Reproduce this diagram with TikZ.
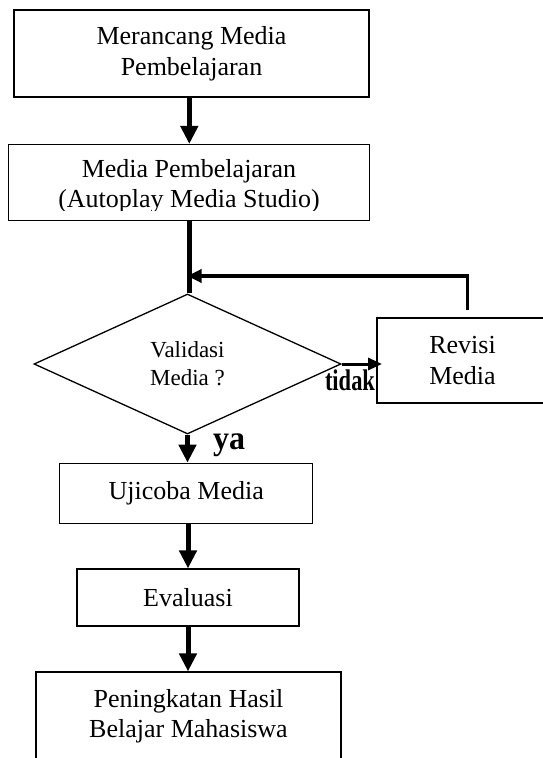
\documentclass[tikz,border=0pt]{standalone}
\usepackage{fontspec}
\usepackage{graphicx}
\setmainfont{Liberation Serif}
\usetikzlibrary{arrows.meta,shapes.geometric,calc}
\begin{document}
\begin{tikzpicture}[x=1pt,y=-1pt,
  box/.style={draw, line width=1.1pt, inner sep=0pt, align=center,
    font=\fontsize{26}{30.5}\selectfont},
  txt/.style={inner sep=0pt, align=center, font=\fontsize{26}{30.5}\selectfont},
  decision/.style={diamond, draw, line width=1.3pt, inner sep=0pt, align=center,
    font=\fontsize{23}{28}\selectfont},
  mainarrow/.style={line width=5pt, -{Triangle[width=17pt,length=18pt]}},
  plainline/.style={line width=5pt},
  fbarrow/.style={line width=3.3pt, -{Triangle[width=13pt,length=14pt]}},
  tarrow/.style={line width=3pt, -{Triangle[width=12pt,length=14pt]}},
  lbl/.style={inner sep=0pt}]
\useasboundingbox (0,0) rectangle (543,758);
\fill[white] (0,0) rectangle (543,758);

\node[box, minimum width=355pt, minimum height=87pt] (b1) at (191.5,53.5) {Merancang Media\\Pembelajaran};
\node[box, minimum width=361pt, minimum height=76pt] (b2) at (189.3,182.5) {};
\begin{scope}
  \clip (0,140) rectangle (543,210);
  \node[txt] (t2) at (189,186.2) {Media Pembelajaran\\(Autoplay Media Studio)};
\end{scope}
\node[decision, minimum width=307pt, minimum height=140pt] (d) at (187.5,364) {Validasi\\Media ?};
\node[box, minimum width=171pt, minimum height=85pt] (rv) at (462.5,360.5) {Revisi\\Media};
\node[box, minimum width=253pt, minimum height=60pt] (uj) at (186.2,493.2) {Ujicoba Media};
\node[box, minimum width=222pt, minimum height=57pt] (ev) at (188,597.5) {Evaluasi};
\node[box, minimum width=305pt, minimum height=88pt] (pk) at (188.5,716) {Peningkatan Hasil\\Belajar Mahasiswa};

\coordinate (j) at (187.5,276);

\draw[mainarrow] (b2.north |- b1.south) -- (b2.north);
\draw[plainline] (b2.south) -- (b2.south |- d.north);
\draw[fbarrow] ([shift={(5.2,-7)}]rv.north) |- (j);
\draw[tarrow] (d.east) -- ($(d.east -| rv.west)+(5.6,0)$);
\draw[mainarrow] (d.south) -- (d.south |- uj.north);
\draw[mainarrow] (ev.north |- uj.south) -- (ev.north);
\draw[mainarrow] (ev.south) -- (ev.south |- pk.north);

\node[lbl] (tl) at (350,380.5) {\resizebox*{50pt}{21pt}{\bfseries tidak}};
\node[lbl] (yl) at (229,445.5) {\resizebox*{32pt}{23pt}{\bfseries ya}};
\end{tikzpicture}
\end{document}
